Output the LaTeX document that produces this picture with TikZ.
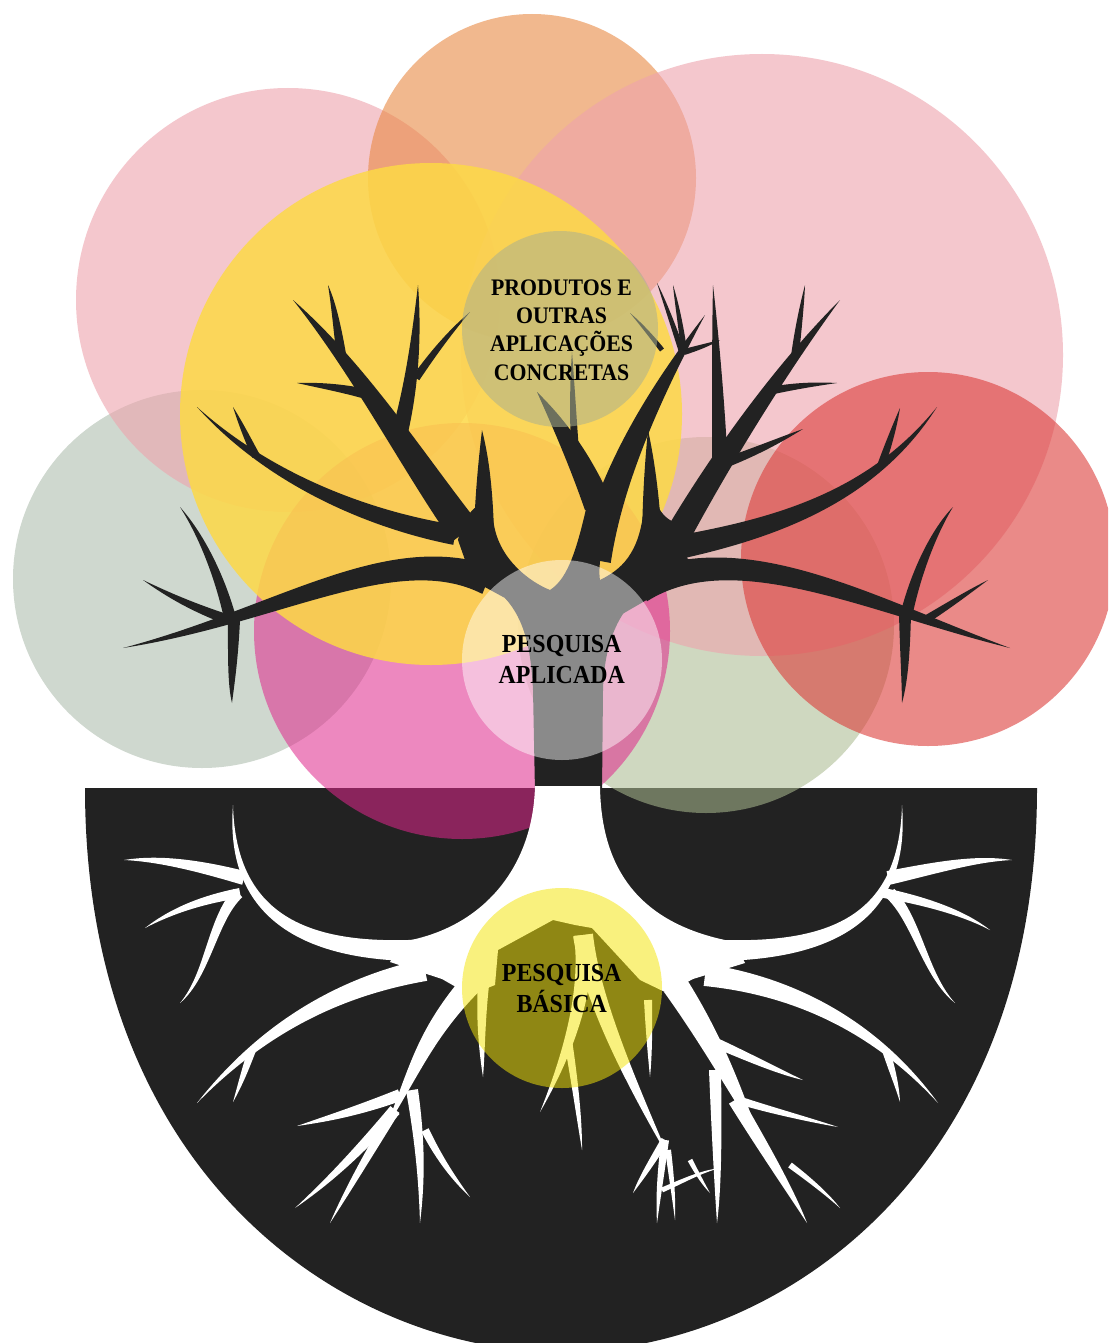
\documentclass[tikz,border=0pt]{standalone}
\usepackage{fontspec}
\setmainfont{Liberation Serif}
\newfontfamily\lblfont[FakeStretch=0.92]{Liberation Serif}
\usetikzlibrary{calc}
\definecolor{treeblack}{HTML}{222222}
\definecolor{cgraygreen}{HTML}{AFBEAF}
\definecolor{cgreen}{HTML}{AABA8F}
\definecolor{cpink}{HTML}{EEA3AD}
\definecolor{corange}{HTML}{E98943}
\definecolor{cmagenta}{HTML}{E0278C}
\definecolor{cyellow}{HTML}{FDD946}
\definecolor{cred}{HTML}{DC3C39}
\definecolor{cprod}{HTML}{ABB18E}
\definecolor{cbasic}{HTML}{F4E508}
\def\limbcol{treeblack}
\newcommand{\limb}[5]{%
  \path #1 coordinate (lA) #2 coordinate (lB) #3 coordinate (lC) #4 coordinate (lT);
  \pgfmathsetmacro{\lwa}{#5}%
  \pgfmathsetmacro{\lwb}{0.85*#5}%
  \pgfmathsetmacro{\lwc}{0.55*#5}%
  \fill[\limbcol] ($(lA)!\lwa pt!90:(lB)$) .. controls ($(lB)!\lwb pt!90:(lC)$) and ($(lC)!\lwc pt!90:(lT)$) .. (lT)
    .. controls ($(lC)!\lwc pt!-90:(lT)$) and ($(lB)!\lwb pt!-90:(lC)$) .. ($(lA)!\lwa pt!-90:(lB)$) -- cycle;}
\tikzset{
  bubble/.style={fill opacity=#1},
  lbl/.style={anchor=base, inner sep=0pt, text=black},
  big/.style={font=\lblfont\bfseries\fontsize{26}{26}\selectfont},
  small/.style={font=\lblfont\bfseries\fontsize{23.7}{23.7}\selectfont}
}
\begin{document}
\begin{tikzpicture}[x=1pt,y=-1pt]
\useasboundingbox (0,0) rectangle (1108,1343);
\clip (0,0) rectangle (1108,1343);
\fill[white] (0,0) rectangle (1108,1343);
% black ground
\fill[treeblack] (85,788) -- (1037,788) .. controls (1037,1180) and (772,1352) .. (561,1352)
  .. controls (350,1352) and (85,1180) .. (85,788) -- cycle;
% big circles
\fill[cgraygreen, bubble=0.6] (202,579) circle[radius=189];
\fill[cgreen, bubble=0.56] (706,625) circle[radius=188];
\fill[cpink, bubble=0.6] (288,300) circle[radius=212];
\fill[corange, bubble=0.6] (532,178) circle[radius=164];
\fill[cpink, bubble=0.6] (762,355) circle[radius=301];
\fill[cmagenta, bubble=0.55] (462,631) circle[radius=208];
\fill[cyellow, bubble=0.85] (431,414) circle[radius=251];
\fill[cred, bubble=0.6] (928,559) circle[radius=187];
% ---------- tree (black) ----------
\def\limbcol{treeblack}
\fill[treeblack] (535,792) -- (533,690) .. controls (531,650) and (525,620) .. (505,598)
  -- (640,595) .. controls (615,615) and (604,650) .. (603,690) -- (602,792) -- cycle;
% crown with pockets
\fill[treeblack] (458,540) .. controls (462,520) and (470,512) .. (477,506)
  -- (490,506) -- (494,525) .. controls (500,560) and (530,582) .. (550,590)
  .. controls (565,580) and (575,560) .. (588,500) -- (612,500)
  .. controls (601,545) and (598,568) .. (600,580) .. controls (620,570) and (640,555) .. (644,506)
  -- (658,506) .. controls (662,515) and (668,520) .. (678,524)
  -- (688,560) -- (650,598) -- (612,620) -- (527,620) -- (505,598) -- (472,580) -- cycle;
% left limbs
\limb{(488,580)}{(390,540)}{(280,615)}{(123,648)}{15}
\limb{(230,618)}{(222,585)}{(205,540)}{(180,507)}{6}
\limb{(234,620)}{(233,660)}{(231,685)}{(232,703)}{6}
\limb{(226,619)}{(195,608)}{(170,596)}{(143,580)}{5}
\limb{(455,535)}{(370,520)}{(270,480)}{(197,407)}{10}
\limb{(256,456)}{(248,440)}{(240,422)}{(233,407)}{4}
\limb{(465,532)}{(415,465)}{(360,370)}{(293,300)}{16}
\limb{(366,394)}{(342,388)}{(318,385)}{(297,383)}{5}
\limb{(342,360)}{(338,332)}{(334,305)}{(328,285)}{5}
\limb{(400,432)}{(413,380)}{(417,330)}{(418,285)}{8}
\limb{(416,378)}{(434,352)}{(452,330)}{(470,312)}{4}
\limb{(484,530)}{(484,490)}{(484,460)}{(482,430)}{10}
% centre
\limb{(595,560)}{(610,480)}{(650,400)}{(705,315)}{16}
\limb{(598,505)}{(580,460)}{(560,425)}{(537,392)}{14}
\limb{(575,452)}{(573,415)}{(572,380)}{(572,352)}{4}
\limb{(682,352)}{(673,325)}{(664,300)}{(657,283)}{3}
\limb{(684,350)}{(680,320)}{(676,300)}{(673,285)}{3}
\limb{(684,352)}{(698,348)}{(710,344)}{(720,340)}{3}
\limb{(662,350)}{(652,337)}{(640,323)}{(630,313)}{2.5}
% right limbs
\limb{(640,588)}{(740,535)}{(870,605)}{(1010,648)}{15}
\limb{(905,614)}{(905,650)}{(905,680)}{(902,703)}{6}
\limb{(907,612)}{(917,570)}{(935,530)}{(953,507)}{6}
\limb{(925,620)}{(948,606)}{(967,593)}{(988,580)}{4}
\limb{(665,550)}{(770,530)}{(870,500)}{(937,407)}{12}
\limb{(881,466)}{(890,440)}{(895,425)}{(900,408)}{4}
\limb{(675,540)}{(720,460)}{(780,370)}{(840,300)}{13}
\limb{(722,464)}{(755,452)}{(780,440)}{(803,429)}{5}
\limb{(769,391)}{(795,386)}{(815,384)}{(837,383)}{4}
\limb{(795,356)}{(798,330)}{(802,305)}{(805,285)}{4}
\limb{(720,470)}{(719,420)}{(716,350)}{(713,285)}{8}
\limb{(652,540)}{(651,500)}{(650,465)}{(648,430)}{10}
% ---------- roots (white) ----------
\def\limbcol{white}
\fill[white] (535,786) -- (600,786) .. controls (601,870) and (640,925) .. (735,942)
  -- (745,963) -- (693,979) -- (667,993) -- (640,980) -- (592,928) -- (575,925) -- (553,920)
  -- (498,950) -- (495,985) -- (470,995) -- (442,979) -- (390,962) -- (400,942)
  .. controls (480,930) and (533,870) .. (535,786) -- cycle;
% left
\limb{(430,950)}{(310,955)}{(230,920)}{(233,805)}{11}
\limb{(244,878)}{(200,866)}{(160,858)}{(124,860)}{7}
\limb{(240,893)}{(200,900)}{(170,912)}{(145,928)}{5}
\limb{(238,893)}{(212,920)}{(208,975)}{(180,1003)}{6}
\limb{(425,970)}{(350,985)}{(270,1020)}{(197,1103)}{11}
\limb{(252,1050)}{(245,1070)}{(240,1085)}{(233,1102)}{4}
\limb{(470,985)}{(425,1035)}{(415,1070)}{(385,1130)}{11}
\limb{(400,1095)}{(360,1110)}{(330,1118)}{(297,1126)}{6}
\limb{(395,1110)}{(360,1150)}{(330,1180)}{(295,1208)}{6}
\limb{(395,1110)}{(365,1160)}{(345,1195)}{(330,1223)}{5}
\limb{(412,1090)}{(420,1140)}{(422,1180)}{(420,1223)}{6}
\limb{(425,1130)}{(440,1160)}{(455,1180)}{(470,1197)}{4}
\limb{(485,970)}{(480,1010)}{(482,1050)}{(483,1077)}{6}
% centre
\limb{(583,935)}{(588,990)}{(570,1050)}{(540,1112)}{9}
\limb{(568,1040)}{(576,1090)}{(580,1125)}{(582,1150)}{4}
\limb{(583,935)}{(592,1000)}{(630,1080)}{(670,1160)}{10}
\limb{(665,1140)}{(650,1165)}{(640,1180)}{(633,1193)}{4}
\limb{(665,1140)}{(660,1180)}{(658,1200)}{(657,1223)}{4}
\limb{(668,1150)}{(672,1180)}{(674,1200)}{(675,1220)}{3}
\limb{(662,1190)}{(685,1180)}{(700,1172)}{(720,1168)}{2.5}
\limb{(690,1160)}{(698,1175)}{(704,1185)}{(710,1193)}{2.5}
\limb{(648,1000)}{(649,1030)}{(650,1055)}{(650,1077)}{4}
% right
\limb{(700,950)}{(830,955)}{(905,920)}{(902,805)}{11}
\limb{(888,878)}{(935,868)}{(975,858)}{(1012,860)}{7}
\limb{(884,893)}{(930,902)}{(965,914)}{(990,930)}{5}
\limb{(890,893)}{(917,920)}{(925,975)}{(955,1003)}{6}
\limb{(705,975)}{(785,985)}{(870,1020)}{(938,1103)}{11}
\limb{(886,1050)}{(892,1070)}{(897,1085)}{(900,1102)}{4}
\limb{(675,985)}{(712,1040)}{(735,1090)}{(760,1140)}{13}
\limb{(714,1042)}{(750,1058)}{(780,1072)}{(803,1080)}{5}
\limb{(738,1100)}{(770,1110)}{(810,1120)}{(838,1127)}{4}
\limb{(735,1100)}{(765,1150)}{(790,1190)}{(807,1223)}{7}
\limb{(790,1165)}{(810,1180)}{(828,1195)}{(840,1208)}{3}
\limb{(715,1070)}{(717,1140)}{(718,1190)}{(717,1223)}{6}
% ---------- label circles ----------
\fill[cprod, bubble=0.55] (560,329) circle[radius=98];
\fill[white, bubble=0.47] (562,660) circle[radius=100];
\fill[cbasic, bubble=0.52] (562,988) circle[radius=100];
% labels
\node[lbl, small] (p1) at (561.5,295.7) {PRODUTOS E};
\node[lbl, small] (p2) at (561.5,323.8) {OUTRAS};
\node[lbl, small] (p3) at (561.5,351.9) {APLICAÇÕES};
\node[lbl, small] (p4) at (561.5,380) {CONCRETAS};
\node[lbl, big] (a1) at (561.7,652.7) {PESQUISA};
\node[lbl, big] (a2) at (561.7,683.3) {APLICADA};
\node[lbl, big] (b1) at (561.7,981.7) {PESQUISA};
\node[lbl, big] (b2) at (561.7,1012.7) {BÁSICA};
\end{tikzpicture}
\end{document}
